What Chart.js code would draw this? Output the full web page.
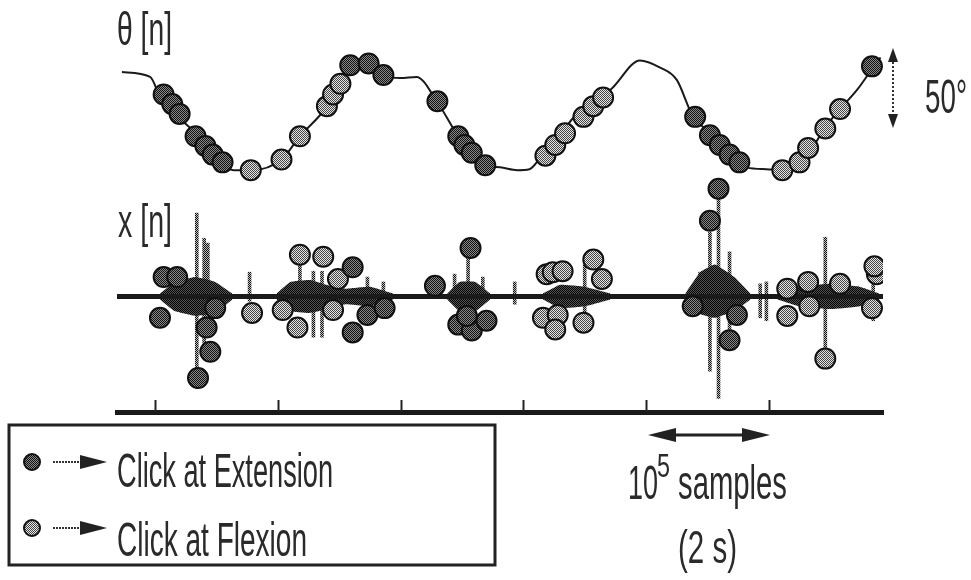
<!DOCTYPE html>
<html><head><meta charset="utf-8">
<script src="https://cdn.jsdelivr.net/npm/chart.js@4.4.1/dist/chart.umd.min.js"></script>
<style>
html,body{margin:0;padding:0;background:#fff;}
#wrap{position:relative;width:971px;height:580px;overflow:hidden;}
#c{position:absolute;left:0;top:0;}
#ov{position:absolute;left:0;top:0;}
</style></head><body>
<div id="wrap">
<canvas id="c" width="971" height="580"></canvas>
<svg id="ov" width="971" height="580" font-family="'Liberation Sans', Arial, sans-serif" fill="#2a2a2a">
<defs>
<pattern id="dk" width="2" height="2" patternUnits="userSpaceOnUse"><rect width="2" height="2" fill="#8a8a8a"/><rect width="1" height="1" fill="#111"/><rect x="1" y="1" width="1" height="1" fill="#111"/></pattern>
<pattern id="lt" width="2" height="2" patternUnits="userSpaceOnUse"><rect width="2" height="2" fill="#e6e6e6"/><rect width="1" height="1" fill="#444"/><rect x="1" y="1" width="1" height="1" fill="#444"/></pattern>
</defs>
<text x="117" y="45" font-size="46" textLength="55" lengthAdjust="spacingAndGlyphs">θ [n]</text>
<text x="118" y="237" font-size="46" textLength="54" lengthAdjust="spacingAndGlyphs">x [n]</text>
<text x="925" y="113" font-size="48" textLength="42" lengthAdjust="spacingAndGlyphs">50°</text>
<line x1="893" y1="58" x2="893" y2="120" stroke="#333" stroke-width="2" stroke-dasharray="2 2"/>
<polygon points="893,48 888,62 898,62" fill="#222"/>
<polygon points="893,128 888,114 898,114" fill="#222"/>
<rect x="9" y="425" width="486" height="140" fill="none" stroke="#222" stroke-width="3"/>
<circle cx="32" cy="462" r="8" fill="url(#dk)" stroke="#111" stroke-width="2"/>
<line x1="53" y1="462" x2="84" y2="462" stroke="#333" stroke-width="2" stroke-dasharray="2 1"/>
<polygon points="80,455 107,462 80,469" fill="#222"/>
<text x="117" y="487" font-size="48" textLength="216" lengthAdjust="spacingAndGlyphs">Click at Extension</text>
<circle cx="32" cy="528" r="8" fill="url(#lt)" stroke="#111" stroke-width="2"/>
<line x1="53" y1="528" x2="84" y2="528" stroke="#333" stroke-width="2" stroke-dasharray="2 1"/>
<polygon points="80,521 107,528 80,535" fill="#222"/>
<text x="117" y="556" font-size="48" textLength="190" lengthAdjust="spacingAndGlyphs">Click at Flexion</text>
<line x1="668" y1="435" x2="750" y2="435" stroke="#222" stroke-width="3"/>
<polygon points="648,435 676,428 676,442" fill="#222"/>
<polygon points="770,435 742,428 742,442" fill="#222"/>
<text x="628" y="499" font-size="48" textLength="30" lengthAdjust="spacingAndGlyphs">10</text>
<text x="657" y="477" font-size="34" textLength="13" lengthAdjust="spacingAndGlyphs">5</text>
<text x="678" y="499" font-size="48" textLength="109" lengthAdjust="spacingAndGlyphs">samples</text>
<text x="678" y="563" font-size="46" textLength="59" lengthAdjust="spacingAndGlyphs">(2 s)</text>
</svg>
</div>
<script>
// x axis in units of 10^5 samples
const xTicks = [1, 2, 3, 4, 5, 6];

// θ[n] joint angle (degrees)
const thetaX = [0.73,0.96,1.04,1.18,1.37,1.51,1.64,1.79,2.03,2.18,2.40,2.48,2.59,2.75,2.86,3.00,3.13,3.30,3.48,3.57,3.67,3.81,3.95,4.05,4.14,4.30,4.40,4.57,4.71,4.95,5.11,5.25,5.38,5.58,5.71,5.82,5.98,6.15,6.31,6.39,6.47,6.58,6.72,6.85,6.91];
const thetaDeg = [64.4,61.3,48.8,36.3,21.9,7.5,1.3,1.3,8.1,23.1,42.5,55.0,68.8,70.6,62.5,60.6,61.3,45.0,21.9,13.8,4.4,3.1,1.3,1.9,9.4,23.8,34.4,46.9,53.1,71.9,67.5,59.4,36.3,21.9,9.4,3.1,1.9,1.3,9.4,20.0,30.0,40.6,53.1,67.5,73.8];

// clicks marked on θ[n]
const extThetaX = [1.07,1.14,1.20,1.33,1.41,1.47,1.55,2.59,2.74,2.86,3.30,3.47,3.52,3.58,3.69,5.40,5.52,5.60,5.68,5.76,6.84];
const extThetaY = [50.0,43.8,37.5,23.1,16.9,11.3,6.3,68.8,70.0,62.5,45.6,23.1,17.5,12.5,4.4,35.6,23.8,17.5,11.3,6.3,68.1];
const flxThetaX = [1.78,2.03,2.18,2.40,2.45,2.51,4.18,4.26,4.34,4.49,4.57,4.65,6.11,6.25,6.32,6.46,6.58];
const flxThetaY = [1.3,8.1,23.1,42.5,50.0,56.9,10.6,17.5,25.0,35.6,42.5,48.1,1.3,6.3,15.6,28.1,40.6];

// clicks marked on x[n]
const extClickX = [1.07,1.18,1.04,1.49,1.42,1.45,1.35,2.61,2.73,2.61,2.87,3.28,3.57,3.47,3.58,3.70,3.54,5.59,5.52,5.38,5.74,5.68];
const extClickV = [2.0,2.0,-2.2,-1.2,-3.2,-5.7,-8.4,3.0,-1.9,-3.7,-1.2,1.1,5.0,-2.9,-3.5,-2.5,-2.0,11.1,7.8,-1.0,-1.9,-4.5];
const flxClickX = [1.79,2.18,2.37,2.49,2.04,2.16,2.45,4.19,4.16,4.24,4.32,4.57,4.64,4.28,4.26,4.49,6.15,6.32,6.58,6.88,6.15,6.33,6.46,6.84,6.86];
const flxClickV = [-1.7,4.3,4.1,1.8,-1.4,-3.2,-1.4,2.3,-2.2,2.5,2.6,3.8,1.8,-1.9,-3.4,-2.7,0.8,1.5,1.3,2.3,-2.0,-1.0,-6.4,-1.2,3.1];

// x[n] spikes
const stemX  = [1.34,1.40,1.43,1.77,2.18,2.29,2.36,2.73,2.86,3.44,3.55,3.67,3.93,4.50,5.44,5.52,5.59,5.68,5.93,5.98,6.46,6.85];
const stemHi = [8.6,6.0,5.5,2.5,3.5,2.6,2.6,2.0,1.5,2.3,5.0,2.0,1.5,3.3,2.5,6.6,11.1,4.6,1.3,1.5,6.1,2.5];
const stemLo = [-9.5,-5.0,-4.0,-0.5,0,-4.2,-4.2,-0.5,-0.5,-0.5,-1.0,-0.5,-0.8,-3.7,-1.0,-7.7,-10.5,-5.4,-2.2,-2.5,-6.4,-2.5];

// x[n] activity bursts (envelope), null separates bursts
const burstX  = [1.04,1.16,1.33,1.49,1.63,null,1.99,2.10,2.26,2.45,2.55,2.75,2.94,null,3.38,3.48,3.61,3.73,null,4.16,4.30,4.50,4.71,null,5.32,5.44,5.56,5.72,5.85,null,6.07,6.25,6.50,6.74,6.90];
const burstHi = [0.3,1.5,2.0,1.5,0.3,null,0.3,1.5,1.7,1.0,0.8,1.0,0.3,null,0.3,1.5,1.5,0.3,null,0.3,1.2,1.0,0.3,null,0.3,2.5,3.3,2.0,0.3,null,0.3,1.0,1.3,1.0,0.3];
const burstLo = [-0.3,-1.5,-2.0,-1.7,-0.3,null,-0.3,-1.5,-1.7,-1.2,-0.8,-1.0,-0.3,null,-0.3,-1.5,-1.5,-0.3,null,-0.3,-1.2,-1.0,-0.3,null,-0.3,-1.8,-2.2,-1.5,-0.3,null,-0.3,-1.0,-1.3,-1.0,-0.3];

// x[n] baseline extent
const baseX = [0.69, 6.93];
const baseV = [0, 0];

const canvas = document.getElementById('c');
const ctx0 = canvas.getContext('2d');
function halftone(a, b) {
  const c = document.createElement('canvas'); c.width = 2; c.height = 2;
  const g = c.getContext('2d');
  g.fillStyle = b; g.fillRect(0, 0, 2, 2);
  g.fillStyle = a; g.fillRect(0, 0, 1, 1); g.fillRect(1, 1, 1, 1);
  return ctx0.createPattern(c, 'repeat');
}
const darkFill = halftone('#111', '#8a8a8a');
const lightFill = halftone('#444', '#e6e6e6');
const stemFill = halftone('#111', '#bdbdbd');
const burstFill = halftone('#000', '#555');

const pts = (xs, ys) => xs.map((x, i) => ({x, y: ys[i]}));
function segments(xs, ys) {
  const out = []; let cur = [];
  xs.forEach((x, i) => {
    if (x === null) { if (cur.length) out.push(cur); cur = []; }
    else cur.push({x, y: ys[i]});
  });
  if (cur.length) out.push(cur);
  return out;
}

const datasets = [];
datasets.push({type:'scatter', data: pts(extThetaX, extThetaY), yAxisID:'yT', order:0,
  pointRadius:10, pointBackgroundColor: darkFill, pointBorderColor:'#111', pointBorderWidth:2, showLine:false});
datasets.push({type:'scatter', data: pts(flxThetaX, flxThetaY), yAxisID:'yT', order:0,
  pointRadius:10, pointBackgroundColor: lightFill, pointBorderColor:'#111', pointBorderWidth:2, showLine:false});
datasets.push({type:'scatter', data: pts(extClickX, extClickV), yAxisID:'yX', order:0,
  pointRadius:10, pointBackgroundColor: darkFill, pointBorderColor:'#111', pointBorderWidth:2, showLine:false});
datasets.push({type:'scatter', data: pts(flxClickX, flxClickV), yAxisID:'yX', order:0,
  pointRadius:10, pointBackgroundColor: lightFill, pointBorderColor:'#111', pointBorderWidth:2, showLine:false});
datasets.push({type:'line', data: pts(thetaX, thetaDeg), yAxisID:'yT', order:2,
  borderColor:'#1a1a1a', borderWidth:2, pointRadius:0, cubicInterpolationMode:'monotone', fill:false});
datasets.push({type:'line', data: pts(baseX, baseV), yAxisID:'yX', order:3,
  borderColor:'#1a1a1a', borderWidth:5, pointRadius:0, fill:false});
segments(burstX, burstHi).forEach(seg => datasets.push({type:'line', data: seg, yAxisID:'yX', order:4,
  borderWidth:0, borderColor:'rgba(0,0,0,0)', pointRadius:0, tension:0.1, fill:'origin', backgroundColor: burstFill}));
segments(burstX, burstLo).forEach(seg => datasets.push({type:'line', data: seg, yAxisID:'yX', order:4,
  borderWidth:0, borderColor:'rgba(0,0,0,0)', pointRadius:0, tension:0.1, fill:'origin', backgroundColor: burstFill}));
datasets.push({type:'bar', data: stemX.map((x, i) => ({x, y:[stemLo[i], stemHi[i]]})), yAxisID:'yX', order:5,
  backgroundColor: stemFill, borderWidth:0, barThickness:3});

const tickMarks = {
  id: 'tickMarks',
  afterDraw(chart) {
    const s = chart.scales.x, ctx = chart.ctx, b = chart.chartArea.bottom;
    ctx.save(); ctx.strokeStyle = '#222'; ctx.lineWidth = 2;
    s.ticks.forEach(t => {
      if (!xTicks.includes(t.value)) return;
      const px = Math.round(s.getPixelForValue(t.value)) + 0.5;
      ctx.beginPath(); ctx.moveTo(px, b - 12); ctx.lineTo(px, b); ctx.stroke();
    });
    ctx.restore();
  }
};

new Chart(canvas, {
  data: { datasets },
  options: {
    responsive: false, animation: false,
    layout: { padding: { left: 117, right: 88, top: 0, bottom: 168 } },
    plugins: { legend: { display: false }, tooltip: { enabled: false } },
    scales: {
      x: { type: 'linear', min: 0.69, max: 6.93, offset: false,
        ticks: { stepSize: 1, includeBounds: false, display: false },
        grid: { display: false, drawTicks: false, offset: false },
        border: { display: true, color: '#1a1a1a', width: 5 },
        afterFit(s) { s.height = 0; } },
      yT: { type: 'linear', display: false, min: -154.4, max: 103.1 },
      yX: { type: 'linear', display: false, min: -11.9, max: 29.3 }
    }
  },
  plugins: [tickMarks]
});
</script>
</body></html>
